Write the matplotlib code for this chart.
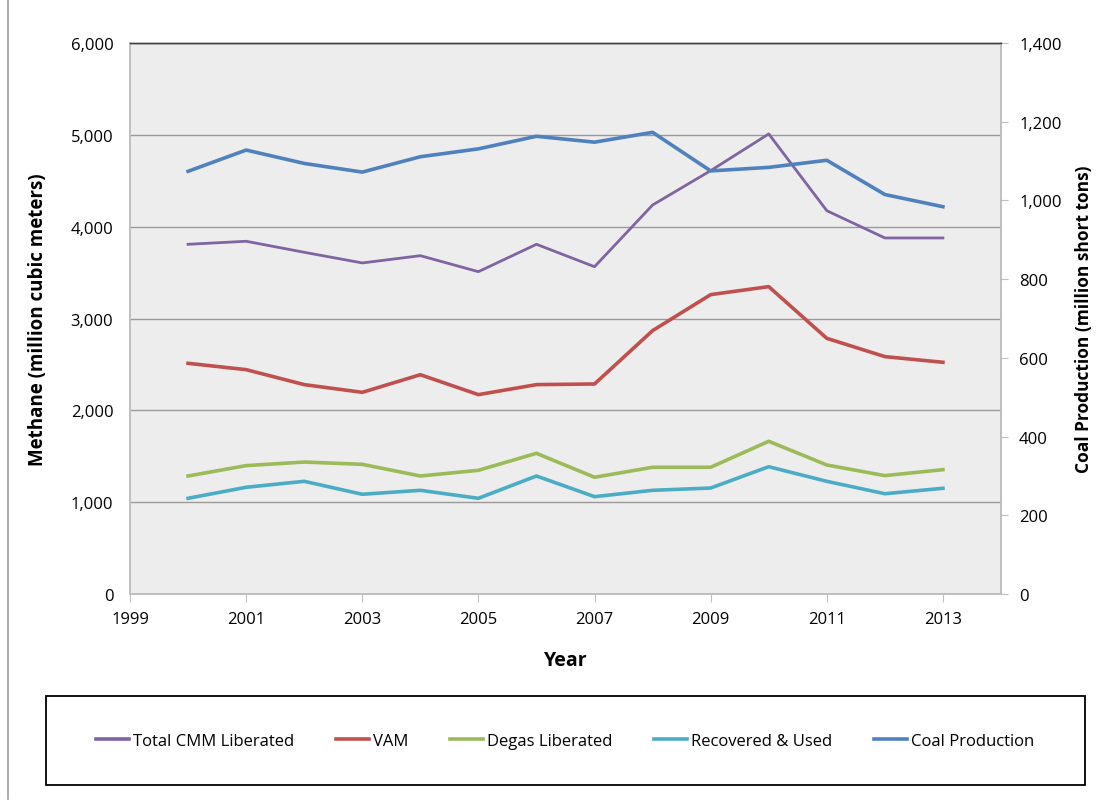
import matplotlib
matplotlib.use("Agg")
from matplotlib import pyplot as plt
from matplotlib.lines import Line2D
from matplotlib.patches import Rectangle
from matplotlib.ticker import FuncFormatter

plt.rcParams['font.family'] = ['Open Sans', 'DejaVu Sans']

years = list(range(2000, 2014))
total_cmm = [3808, 3841, 3721, 3605, 3684, 3510, 3808, 3564, 4236, 4610, 5010, 4174, 3877, 3877]
vam = [2512, 2443, 2280, 2196, 2388, 2171, 2280, 2287, 2868, 3260, 3347, 2784, 2585, 2523]
degas = [1285, 1398, 1437, 1412, 1285, 1347, 1532, 1271, 1380, 1380, 1663, 1405, 1289, 1354]
recovered = [1042, 1162, 1227, 1086, 1129, 1042, 1285, 1060, 1129, 1154, 1386, 1227, 1092, 1151]
coal = [1074, 1128, 1094, 1072, 1111, 1131, 1163, 1148, 1173, 1075, 1084, 1102, 1015, 984]

labels = ["Total CMM Liberated", "VAM", "Degas Liberated", "Recovered & Used", "Coal Production"]
colors = ["#8064A2", "#C0504D", "#9BBB59", "#4BACC6", "#4F81BD"]

W, H = 1096, 804
fig = plt.figure(figsize=(W / 100, H / 100), dpi=100)
ax = fig.add_axes([130 / W, 1 - 595 / H, 871 / W, 551 / H])
ax.set_facecolor("#EDEDED")
ax2 = ax.twinx()

ax.plot(years, total_cmm, color=colors[0], lw=2.0, zorder=3)
ax.plot(years, vam, color=colors[1], lw=2.6, zorder=3)
ax.plot(years, degas, color=colors[2], lw=2.6, zorder=3)
ax.plot(years, recovered, color=colors[3], lw=2.6, zorder=3)
ax2.plot(years, coal, color=colors[4], lw=2.6, zorder=3)

ax.set_xlim(1999, 2014)
ax.set_ylim(0, 6000)
ax2.set_ylim(0, 1400)
ax.set_xticks(range(1999, 2014, 2))
ax.set_yticks(range(0, 6001, 1000))
ax2.set_yticks(range(0, 1401, 200))
fmt = FuncFormatter(lambda v, p: f"{int(v):,}")
ax.yaxis.set_major_formatter(fmt)
ax2.yaxis.set_major_formatter(fmt)

ax.grid(axis="y", color="#9A9A9A", lw=1.0, zorder=1)
ax.set_axisbelow(True)
for a in (ax, ax2):
    for s in a.spines.values():
        s.set_color("#BFBFBF")
        s.set_linewidth(1.2)
    a.spines["top"].set_color("#404040")
    a.spines["top"].set_linewidth(1.0)

ax.tick_params(axis="y", length=0, labelsize=12, pad=12)
ax.tick_params(axis="x", length=6, color="#BFBFBF", labelsize=12, pad=6)
ax2.tick_params(axis="y", length=5, color="#BFBFBF", labelsize=12, pad=8)

ax.set_ylabel("Methane (million cubic meters)", fontsize=13.5, fontweight="bold")
ax.yaxis.set_label_coords((48 - 130) / 871, 0.5)
ax2.set_ylabel("Coal Production (million short tons)", fontsize=12.5, fontweight="bold")
ax2.yaxis.set_label_coords((1075 - 130) / 871, 0.5)
ax.set_xlabel("Year", fontsize=14, fontweight="bold")
ax.xaxis.set_label_coords(0.5, (595 - 651) / 551)

fig.add_artist(Rectangle((46 / W, 1 - 786 / H), 1039 / W, 89 / H, transform=fig.transFigure,
                         facecolor="white", edgecolor="black", lw=1.3))
handles = [Line2D([], [], color=c, lw=2.6) for c in colors]
leg = fig.legend(handles, labels, ncol=5, loc="center",
                 bbox_to_anchor=(565 / W, 1 - 742 / H), frameon=False, fontsize=12,
                 handlelength=1.98, handletextpad=0.24, columnspacing=2.5, borderaxespad=0)

fig.add_artist(Line2D([8 / W, 8 / W], [1 - 800 / H, 1.0], color="#A0A0A0", lw=1.2))

fig.savefig("out.png", dpi=100)
